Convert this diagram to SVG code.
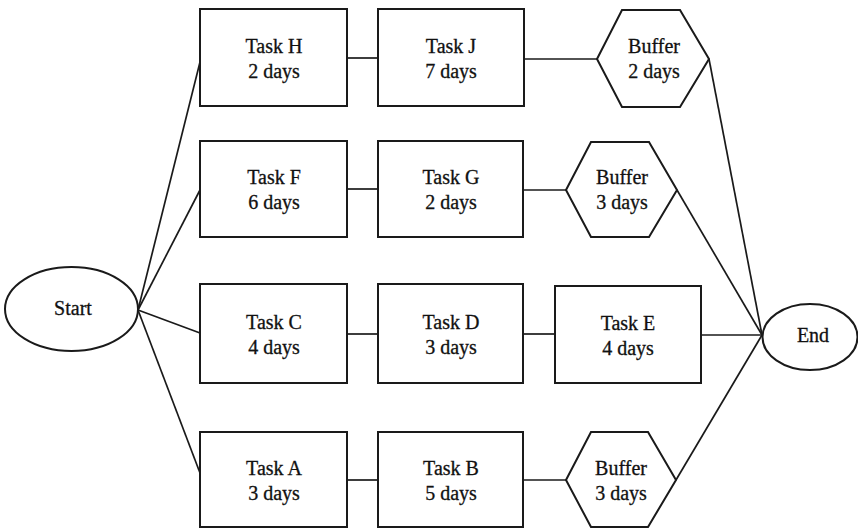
<svg xmlns="http://www.w3.org/2000/svg" width="858" height="529" viewBox="0 0 858 529">
  <style>
    .shape { fill: #fff; stroke: #1a1a1a; stroke-width: 2; }
    .link { fill: none; stroke: #1a1a1a; stroke-width: 1.7; }
    .label text { font-family: 'Liberation Serif', 'Times New Roman', serif; font-size: 20px; fill: #111; stroke: #111; stroke-width: 0.3; text-anchor: middle; }
  </style>
  <rect width="858" height="529" fill="#fff"/>

  <!-- connectors -->
  <g id="connectors">
    <line class="link" x1="138" y1="310" x2="200" y2="62"/>
    <line class="link" x1="138" y1="310" x2="200" y2="190"/>
    <line class="link" x1="138" y1="310" x2="200" y2="333"/>
    <line class="link" x1="138" y1="310" x2="200" y2="473"/>
    <line class="link" x1="347" y1="58" x2="378" y2="58"/>
    <line class="link" x1="347" y1="189" x2="378" y2="189"/>
    <line class="link" x1="347" y1="334" x2="378" y2="334"/>
    <line class="link" x1="347" y1="480" x2="378" y2="480"/>
    <line class="link" x1="524" y1="59" x2="597" y2="59"/>
    <line class="link" x1="523" y1="190" x2="566" y2="190"/>
    <line class="link" x1="523" y1="334" x2="555" y2="334"/>
    <line class="link" x1="523" y1="480" x2="566" y2="480"/>
    <line class="link" x1="709" y1="59" x2="762" y2="335"/>
    <line class="link" x1="677" y1="190" x2="762" y2="335"/>
    <line class="link" x1="701" y1="335" x2="762" y2="335"/>
    <line class="link" x1="676" y1="480" x2="762" y2="335"/>
  </g>

  <g class="label">
  <g id="start">
    <ellipse class="shape" cx="71.5" cy="309" rx="66.5" ry="42"/>
    <text x="73" y="315">Start</text>
  </g>

  <g id="task-h">
    <rect class="shape" x="200" y="9" width="147" height="97"/>
    <text x="274" y="53">Task H</text>
    <text x="274" y="78">2 days</text>
  </g>
  <g id="task-j">
    <rect class="shape" x="378" y="9" width="146" height="97"/>
    <text x="451" y="53">Task J</text>
    <text x="451" y="78">7 days</text>
  </g>
  <g id="buffer-hj">
    <polygon class="shape" points="597,59 622,10 680,10 709,59 680,107 622,107"/>
    <text x="654" y="53">Buffer</text>
    <text x="654" y="78">2 days</text>
  </g>

  <g id="task-f">
    <rect class="shape" x="200" y="141" width="147" height="96"/>
    <text x="274" y="184">Task F</text>
    <text x="274" y="209">6 days</text>
  </g>
  <g id="task-g">
    <rect class="shape" x="378" y="141" width="145" height="96"/>
    <text x="451" y="184">Task G</text>
    <text x="451" y="209">2 days</text>
  </g>
  <g id="buffer-fg">
    <polygon class="shape" points="566,190 591,142 649,142 677,190 649,237 591,237"/>
    <text x="622" y="184">Buffer</text>
    <text x="622" y="209">3 days</text>
  </g>

  <g id="task-c">
    <rect class="shape" x="200" y="284" width="147" height="99"/>
    <text x="274" y="329">Task C</text>
    <text x="274" y="354">4 days</text>
  </g>
  <g id="task-d">
    <rect class="shape" x="378" y="284" width="145" height="99"/>
    <text x="451" y="329">Task D</text>
    <text x="451" y="354">3 days</text>
  </g>
  <g id="task-e">
    <rect class="shape" x="555" y="286" width="146" height="97"/>
    <text x="628" y="330">Task E</text>
    <text x="628" y="355">4 days</text>
  </g>

  <g id="task-a">
    <rect class="shape" x="200" y="432" width="147" height="95"/>
    <text x="274" y="475">Task A</text>
    <text x="274" y="500">3 days</text>
  </g>
  <g id="task-b">
    <rect class="shape" x="378" y="432" width="145" height="95"/>
    <text x="451" y="475">Task B</text>
    <text x="451" y="500">5 days</text>
  </g>
  <g id="buffer-ab">
    <polygon class="shape" points="566,480 591,432 648,432 676,480 648,527 591,527"/>
    <text x="621" y="475">Buffer</text>
    <text x="621" y="500">3 days</text>
  </g>

  <g id="end">
    <ellipse class="shape" cx="810" cy="337" rx="47.5" ry="33"/>
    <text x="813" y="342">End</text>
  </g>
  </g>
</svg>
